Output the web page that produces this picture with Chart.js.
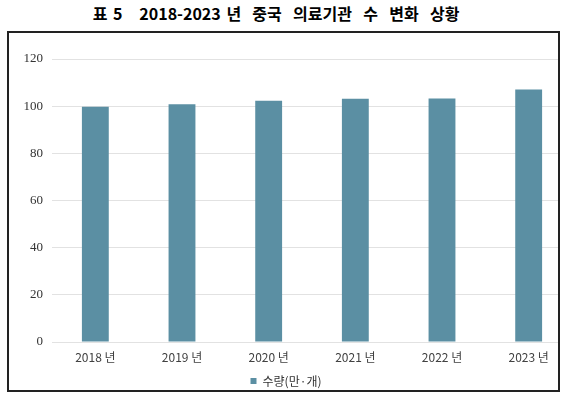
<!DOCTYPE html>
<html><head><meta charset="utf-8">
<script src="https://cdn.jsdelivr.net/npm/chart.js@4/dist/chart.umd.min.js"></script>
<style>
html,body{margin:0;padding:0;background:#fff;width:566px;height:397px;overflow:hidden;position:relative;}
#title{position:absolute;left:0;top:1px;width:552px;text-align:center;font:bold 16px "Noto Sans CJK KR",sans-serif;color:#000;white-space:pre;word-spacing:2px;}
#frame{position:absolute;left:7px;top:31px;width:549px;height:357px;border:2px solid #222;overflow:hidden;background:#fff;}
#wrap{position:absolute;left:-9px;top:-33px;width:580px;height:410px;}
</style></head><body>
<div id="title">표 5   2018-2023 년  중국  의료기관  수  변화  상황</div>
<div id="frame"><div id="wrap"><canvas id="c"></canvas></div></div>
<script>
const categories = ["2018 년","2019 년","2020 년","2021 년","2022 년","2023 년"];
const seriesName = "수량(만·개)";
const values = [99.7, 100.8, 102.3, 103.1, 103.3, 107.1];
const yTicks = [0, 20, 40, 60, 80, 100, 120];

new Chart(document.getElementById('c'), {
  type: 'bar',
  data: { labels: categories, datasets: [{ label: seriesName, data: values, backgroundColor: '#5b8fa3', borderWidth: 0, categoryPercentage: 1, barPercentage: 0.31 }] },
  options: {
    responsive: true, maintainAspectRatio: false, animation: false,
    layout: { padding: { top: 59, right: 8, left: 0, bottom: 13 } },
    plugins: {
      tooltip: { enabled: false },
      legend: { position: 'bottom', labels: { boxWidth: 6, boxHeight: 6, padding: 9, color: '#333', font: { family: '"Noto Sans CJK KR"', size: 12 } } }
    },
    scales: {
      x: {
        grid: { display: false, drawTicks: false },
        border: { display: true, color: '#e2e2e2' },
        ticks: { color: '#404040', padding: 8, font: { family: '"Noto Sans CJK KR"', size: 12 } },
        afterFit: s => { s.height = 24; }
      },
      y: {
        min: 0, max: 120,
        afterBuildTicks: s => { s.ticks = yTicks.map(v => ({ value: v })); },
        grid: { color: '#e2e2e2', drawTicks: false },
        border: { display: false },
        ticks: { color: '#333', padding: 9, font: { family: '"Liberation Serif"', size: 13 } },
        afterFit: s => { s.width = 52; }
      }
    }
  }
});
</script>
</body></html>
